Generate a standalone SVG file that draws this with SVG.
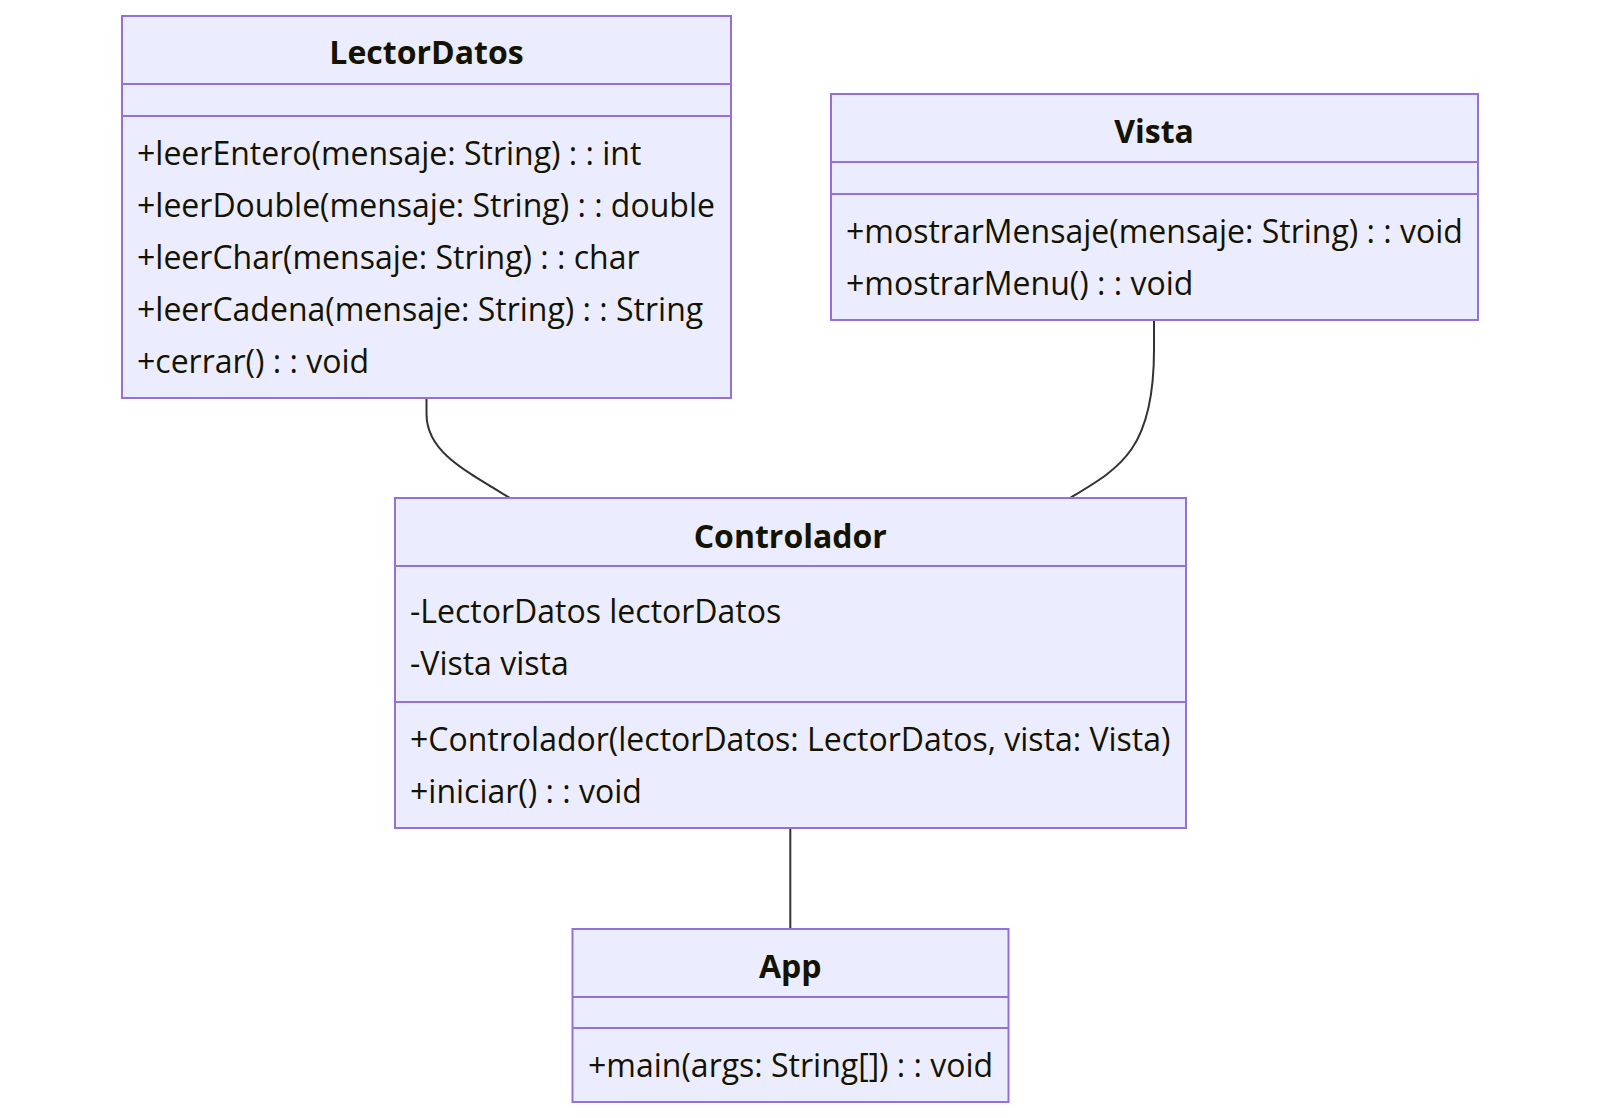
<svg xmlns="http://www.w3.org/2000/svg" width="1600" height="1118" viewBox="0 0 1600 1118">
<style>
.box{fill:#ECECFF;stroke:#9370DB;stroke-width:2}
.div{stroke:#9370DB;stroke-width:2}
.t{font-family:"Open Sans","Noto Sans",sans-serif;font-size:32px;fill:#131300}
.h{font-family:"Open Sans","Noto Sans",sans-serif;font-size:32px;font-weight:bold;fill:#131300;text-anchor:middle}
.e{fill:none;stroke:#333333;stroke-width:2}
</style>
<rect width="1600" height="1118" fill="#ffffff"/>
<g id="connectors">
<path class="e" d="M426.5,398 L426.5,414 C426.5,450 460,468 510,498"/>
<path class="e" d="M1154,320 L1154,350 C1154,450 1120,468 1070,498"/>
<path class="e" d="M790.3,828 L790.3,929"/>
</g>
<g id="LectorDatos">
<rect class="box" x="122" y="16" width="609" height="382"/>
<line class="div" x1="122" y1="84" x2="731" y2="84"/>
<line class="div" x1="122" y1="116" x2="731" y2="116"/>
<text class="h" x="426.5" y="64">LectorDatos</text>
<text class="t" x="137" y="165">+leerEntero(mensaje: String) : : int</text>
<text class="t" x="137" y="217">+leerDouble(mensaje: String) : : double</text>
<text class="t" x="137" y="269">+leerChar(mensaje: String) : : char</text>
<text class="t" x="137" y="321">+leerCadena(mensaje: String) : : String</text>
<text class="t" x="137" y="373">+cerrar() : : void</text>
</g>
<g id="Vista">
<rect class="box" x="831" y="94" width="647" height="226"/>
<line class="div" x1="831" y1="162" x2="1478" y2="162"/>
<line class="div" x1="831" y1="194" x2="1478" y2="194"/>
<text class="h" x="1154" y="143">Vista</text>
<text class="t" x="846" y="243">+mostrarMensaje(mensaje: String) : : void</text>
<text class="t" x="846" y="295">+mostrarMenu() : : void</text>
</g>
<g id="Controlador">
<rect class="box" x="395" y="498" width="791" height="330"/>
<line class="div" x1="395" y1="566" x2="1186" y2="566"/>
<line class="div" x1="395" y1="702" x2="1186" y2="702"/>
<text class="h" x="790.3" y="548">Controlador</text>
<text class="t" x="410" y="623">-LectorDatos lectorDatos</text>
<text class="t" x="410" y="675">-Vista vista</text>
<text class="t" x="410" y="751">+Controlador(lectorDatos: LectorDatos, vista: Vista)</text>
<text class="t" x="410" y="803">+iniciar() : : void</text>
</g>
<g id="App">
<rect class="box" x="572.5" y="929" width="436" height="173"/>
<line class="div" x1="572.5" y1="997" x2="1008.5" y2="997"/>
<line class="div" x1="572.5" y1="1028" x2="1008.5" y2="1028"/>
<text class="h" x="790.3" y="978">App</text>
<text class="t" x="588" y="1077">+main(args: String[]) : : void</text>
</g>
</svg>
